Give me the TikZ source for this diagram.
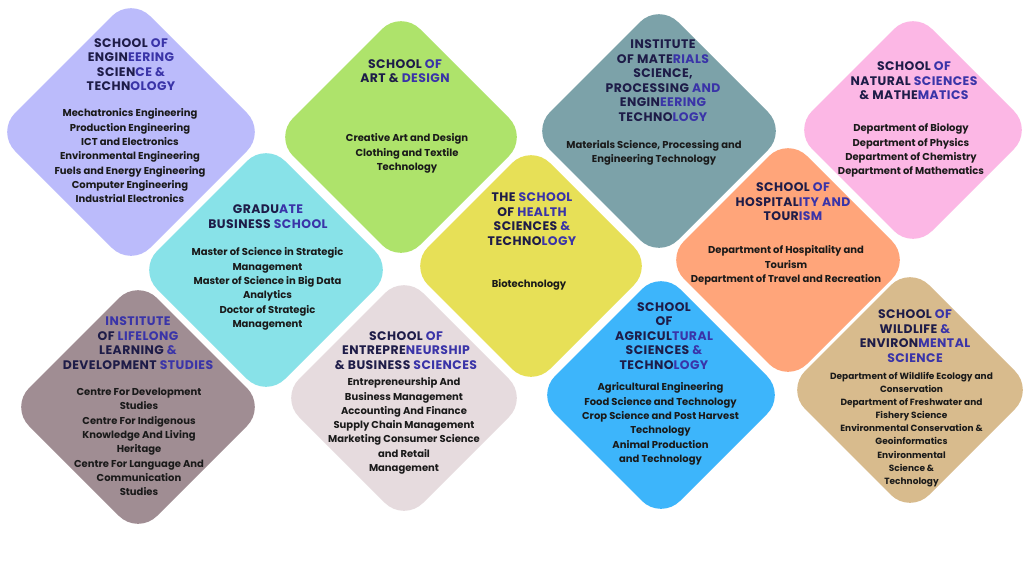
\documentclass[tikz,border=0pt]{standalone}
\usepackage{fontspec}
\setmainfont{Poppins}
\newfontfamily\ttlfont[LetterSpace=3.5]{Poppins}
\definecolor{cEng}{HTML}{BBBBFB}
\definecolor{cArt}{HTML}{AEE36B}
\definecolor{cMat}{HTML}{7CA2A9}
\definecolor{cNat}{HTML}{FCB7E5}
\definecolor{cGrad}{HTML}{88E2E8}
\definecolor{cHea}{HTML}{E7E057}
\definecolor{cHos}{HTML}{FFA57A}
\definecolor{cLif}{HTML}{A08D93}
\definecolor{cEnt}{HTML}{E6DBDE}
\definecolor{cAgr}{HTML}{3DB5FB}
\definecolor{cWil}{HTML}{D8BB8D}
\definecolor{tdark}{HTML}{1E1C48}
\definecolor{tblue}{HTML}{3A34A8}
\definecolor{tbody}{HTML}{1A1A1A}
\newcommand\bl[1]{\textcolor{tblue}{#1}}
\newcommand\gem[4]{\fill[#4,rounded corners=27pt] ({#1-#3/2},{#2-#3/2}) -- (#1,{#2-#3}) -- ({#1+#3},#2) -- (#1,{#2+#3}) -- ({#1-#3},#2) -- cycle;}
\begin{document}
\begin{tikzpicture}[x=1pt,y=-1pt,
  ttl/.style={align=center, text=tdark, font=\ttlfont\bfseries\fontsize{12.4}{14.5}\selectfont, inner sep=0pt},
  bdy/.style={align=center, text=tbody, font=\bfseries\fontsize{10}{14.3}\selectfont, inner sep=0pt},
  bdys/.style={align=center, text=tbody, font=\bfseries\fontsize{9}{13.1}\selectfont, inner sep=0pt}]
\useasboundingbox[fill=white] (0,0) rectangle (1024,576);
% diamonds
\gem{131}{132}{135}{cEng}
\gem{401}{137}{127}{cArt}
\gem{659}{131}{128}{cMat}
\gem{913}{130}{120}{cNat}
\gem{266}{270}{128}{cGrad}
\gem{531}{266}{122}{cHea}
\gem{788}{260}{123}{cHos}
\gem{138}{407}{128}{cLif}
\gem{404}{398}{124}{cEnt}
\gem{661}{395}{125}{cAgr}
\gem{910}{390}{124}{cWil}
% titles
\node[ttl] (tEng) at (131,64.5) {SCHOOL \bl{OF}\\ENGIN\bl{EERING}\\SCIEN\bl{CE \&}\\TECHN\bl{OLOGY}};
\node[ttl] (tArt) at (405,71) {SCHOOL \bl{OF}\\ART \& \bl{DESIGN}};
\node[ttl] (tMat) at (663,80.5) {INSTITUTE\\OF MATE\bl{RIALS}\\SCIENCE,\\PROCESSING \bl{AND}\\ENGIN\bl{EERING}\\TECHNO\bl{LOGY}};
\node[ttl] (tNat) at (914,81) {SCHOOL \bl{OF}\\NATURAL \bl{SCIENCES}\\\& MATHE\bl{MATICS}};
\node[ttl] (tGrad) at (268,216.5) {GRADU\bl{ATE}\\BUSINESS \bl{SCHOOL}};
\node[ttl] (tHea) at (532,219) {THE \bl{SCHOOL}\\OF \bl{HEALTH}\\SCIENCES \bl{\&}\\TECHNO\bl{LOGY}};
\node[ttl] (tHos) at (793,202) {SCHOOL \bl{OF}\\HOSPITAL\bl{ITY AND}\\TOUR\bl{ISM}};
\node[ttl] (tLif) at (138,343) {\bl{INSTITUTE}\\OF \bl{LIFELONG}\\LEARNING \bl{\&}\\DEVELOPMENT \bl{STUDIES}};
\node[ttl] (tEnt) at (406,350.5) {SCHOOL \bl{OF}\\ENTREPRE\bl{NEURSHIP}\\\& BUSINESS \bl{SCIENCES}};
\node[ttl] (tAgr) at (664,336) {SCHOOL\\OF\\AGRICUL\bl{TURAL}\\SCIENCES \bl{\&}\\TECHNO\bl{LOGY}};
\node[ttl] (tWil) at (915,336) {SCHOOL \bl{OF}\\WILDLIFE \bl{\&}\\ENVIRON\bl{MENTAL}\\\bl{SCIENCE}};
% bodies
\node[bdy] (bEng) at (130,155.8) {Mechatronics Engineering\\Production Engineering\\ICT and Electronics\\Environmental Engineering\\Fuels and Energy Engineering\\Computer Engineering\\Industrial Electronics};
\node[bdy] (bArt) at (407,153.5) {Creative Art and Design\\Clothing and Textile\\Technology};
\node[bdy] (bMat) at (654,153) {Materials Science, Processing and\\Engineering Technology};
\node[bdy] (bNat) at (911,150.5) {Department of Biology\\Department of Physics\\Department of Chemistry\\Department of Mathematics};
\node[bdy] (bGrad) at (267.5,289) {Master of Science in Strategic\\Management\\Master of Science in Big Data\\Analytics\\Doctor of Strategic\\Management};
\node[bdy] (bHea) at (529,285) {Biotechnology};
\node[bdy] (bHos) at (786,265.5) {Department of Hospitality and\\Tourism\\Department of Travel and Recreation};
\node[bdy] (bLif) at (139,442) {Centre For Development\\Studies\\Centre For Indigenous\\Knowledge And Living\\Heritage\\Centre For Language And\\Communication\\Studies};
\node[bdy] (bEnt) at (404,426) {Entrepreneurship And\\Business Management\\Accounting And Finance\\Supply Chain Management\\Marketing Consumer Science\\and Retail\\Management};
\node[bdy] (bAgr) at (660.5,424) {Agricultural Engineering\\Food Science and Technology\\Crop Science and Post Harvest\\Technology\\Animal Production\\and Technology};
\node[bdys] (bWil) at (911.5,429.5) {Department of Wildlife Ecology and\\Conservation\\Department of Freshwater and\\Fishery Science\\Environmental Conservation \&\\Geoinformatics\\Environmental\\Science \&\\Technology};
\end{tikzpicture}
\end{document}
